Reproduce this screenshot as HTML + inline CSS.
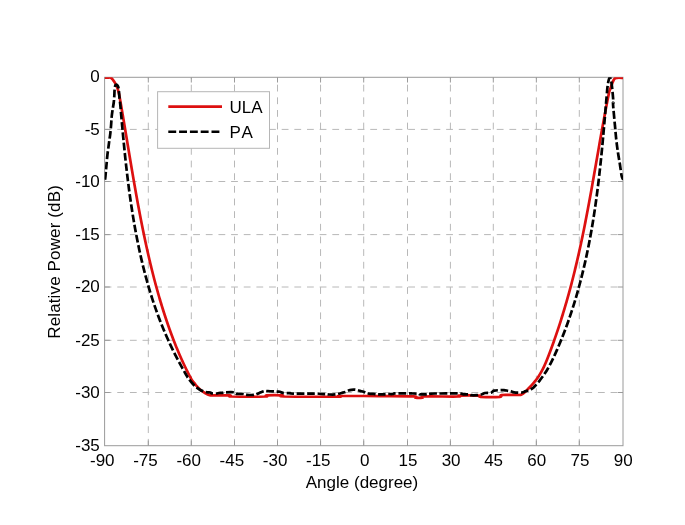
<!DOCTYPE html>
<html><head><meta charset="utf-8"><style>
html,body{margin:0;padding:0;background:#fff;width:685px;height:525px;overflow:hidden}
svg{display:block;will-change:transform}
text{font-family:"Liberation Sans",sans-serif;font-size:17px;fill:#000;font-kerning:none}
</style></head><body>
<svg width="685" height="525" viewBox="0 0 685 525">
<rect x="0" y="0" width="685" height="525" fill="#fff"/>
<g stroke="#b8b8b8" stroke-width="1" stroke-dasharray="6.8 5.85" fill="none">
<line x1="104.6" y1="129.40" x2="623.0" y2="129.40"/>
<line x1="104.6" y1="181.50" x2="623.0" y2="181.50"/>
<line x1="104.6" y1="234.60" x2="623.0" y2="234.60"/>
<line x1="104.6" y1="287.00" x2="623.0" y2="287.00"/>
<line x1="104.6" y1="340.30" x2="623.0" y2="340.30"/>
<line x1="104.6" y1="392.50" x2="623.0" y2="392.50"/>
<line x1="148.30" y1="445.7" x2="148.30" y2="77.3"/>
<line x1="191.30" y1="445.7" x2="191.30" y2="77.3"/>
<line x1="234.50" y1="445.7" x2="234.50" y2="77.3"/>
<line x1="277.50" y1="445.7" x2="277.50" y2="77.3"/>
<line x1="320.55" y1="445.7" x2="320.55" y2="77.3"/>
<line x1="363.70" y1="445.7" x2="363.70" y2="77.3"/>
<line x1="407.50" y1="445.7" x2="407.50" y2="77.3"/>
<line x1="450.40" y1="445.7" x2="450.40" y2="77.3"/>
<line x1="493.30" y1="445.7" x2="493.30" y2="77.3"/>
<line x1="536.35" y1="445.7" x2="536.35" y2="77.3"/>
<line x1="579.30" y1="445.7" x2="579.30" y2="77.3"/>
</g>
<path d="M104.6 129.40h5.2M623.0 129.40h-5.2M104.6 181.50h5.2M623.0 181.50h-5.2M104.6 234.60h5.2M623.0 234.60h-5.2M104.6 287.00h5.2M623.0 287.00h-5.2M104.6 340.30h5.2M623.0 340.30h-5.2M104.6 392.50h5.2M623.0 392.50h-5.2M148.30 445.7v-5.2M148.30 77.3v5.2M191.30 445.7v-5.2M191.30 77.3v5.2M234.50 445.7v-5.2M234.50 77.3v5.2M277.50 445.7v-5.2M277.50 77.3v5.2M320.55 445.7v-5.2M320.55 77.3v5.2M363.70 445.7v-5.2M363.70 77.3v5.2M407.50 445.7v-5.2M407.50 77.3v5.2M450.40 445.7v-5.2M450.40 77.3v5.2M493.30 445.7v-5.2M493.30 77.3v5.2M536.35 445.7v-5.2M536.35 77.3v5.2M579.30 445.7v-5.2M579.30 77.3v5.2" stroke="#9a9a9a" stroke-width="1" fill="none"/>
<rect x="104.6" y="77.3" width="518.4" height="368.4" fill="none" stroke="#9a9a9a" stroke-width="1"/>
<defs><clipPath id="ax"><rect x="104.6" y="77.3" width="518.4" height="368.4"/></clipPath></defs>
<g clip-path="url(#ax)" fill="none" stroke-width="2.7" stroke-linejoin="round" stroke-linecap="butt">
<path d="M104.60 77.60C105.17 77.60 106.95 77.58 108.00 77.60C109.05 77.62 110.05 77.28 110.90 77.70C111.75 78.12 112.42 79.23 113.10 80.10C113.78 80.97 114.38 81.83 115.00 82.90C115.62 83.97 116.27 85.22 116.80 86.50C117.33 87.78 117.79 89.18 118.20 90.60C118.61 92.02 119.00 93.85 119.25 95.00C119.50 96.15 119.55 96.67 119.69 97.50C119.84 98.33 119.99 99.17 120.13 100.00C120.28 100.83 120.43 101.67 120.57 102.50C120.72 103.33 120.86 104.17 121.01 105.00C121.15 105.83 121.30 106.67 121.44 107.50C121.58 108.33 121.73 109.17 121.87 110.00C122.01 110.83 122.16 111.67 122.30 112.50C122.44 113.33 122.58 114.17 122.73 115.00C122.87 115.83 123.01 116.67 123.15 117.50C123.29 118.33 123.43 119.17 123.58 120.00C123.72 120.83 123.86 121.67 124.00 122.50C124.14 123.33 124.28 124.17 124.42 125.00C124.56 125.83 124.70 126.67 124.84 127.50C124.98 128.33 125.12 129.17 125.26 130.00C125.40 130.83 125.53 131.67 125.67 132.50C125.81 133.33 125.95 134.17 126.09 135.00C126.23 135.83 126.37 136.67 126.51 137.50C126.65 138.33 126.78 139.17 126.92 140.00C127.06 140.83 127.20 141.67 127.34 142.50C127.48 143.33 127.62 144.17 127.75 145.00C127.89 145.83 128.03 146.67 128.17 147.50C128.31 148.33 128.45 149.17 128.59 150.00C128.73 150.83 128.86 151.67 129.00 152.50C129.14 153.33 129.28 154.17 129.42 155.00C129.56 155.83 129.70 156.67 129.84 157.50C129.98 158.33 130.12 159.17 130.26 160.00C130.40 160.83 130.54 161.67 130.68 162.50C130.82 163.33 130.96 164.17 131.10 165.00C131.24 165.83 131.38 166.67 131.52 167.50C131.66 168.33 131.80 169.17 131.94 170.00C132.09 170.83 132.23 171.67 132.37 172.50C132.51 173.33 132.65 174.17 132.80 175.00C132.94 175.83 133.08 176.67 133.23 177.50C133.37 178.33 133.51 179.17 133.66 180.00C133.80 180.83 133.95 181.67 134.09 182.50C134.24 183.33 134.38 184.17 134.53 185.00C134.67 185.83 134.82 186.67 134.97 187.50C135.11 188.33 135.26 189.17 135.41 190.00C135.55 190.83 135.70 191.67 135.85 192.50C136.00 193.33 136.15 194.17 136.30 195.00C136.45 195.83 136.60 196.67 136.75 197.50C136.90 198.33 137.05 199.17 137.20 200.00C137.35 200.83 137.51 201.67 137.66 202.50C137.81 203.33 137.97 204.17 138.12 205.00C138.28 205.83 138.43 206.67 138.59 207.50C138.74 208.33 138.90 209.17 139.06 210.00C139.21 210.83 139.37 211.67 139.53 212.50C139.69 213.33 139.85 214.17 140.01 215.00C140.17 215.83 140.33 216.67 140.49 217.50C140.65 218.33 140.81 219.17 140.97 220.00C141.14 220.83 141.30 221.67 141.47 222.50C141.63 223.33 141.80 224.17 141.96 225.00C142.13 225.83 142.29 226.67 142.46 227.50C142.63 228.33 142.80 229.17 142.97 230.00C143.14 230.83 143.31 231.67 143.48 232.50C143.65 233.33 143.82 234.17 144.00 235.00C144.17 235.83 144.35 236.67 144.52 237.50C144.70 238.33 144.87 239.17 145.05 240.00C145.23 240.83 145.41 241.67 145.58 242.50C145.76 243.33 145.94 244.17 146.13 245.00C146.31 245.83 146.49 246.67 146.67 247.50C146.86 248.33 147.04 249.17 147.23 250.00C147.41 250.83 147.60 251.67 147.79 252.50C147.98 253.33 148.17 254.17 148.36 255.00C148.55 255.83 148.74 256.67 148.93 257.50C149.12 258.33 149.32 259.17 149.51 260.00C149.71 260.83 149.91 261.67 150.10 262.50C150.30 263.33 150.50 264.17 150.70 265.00C150.90 265.83 151.10 266.67 151.31 267.50C151.51 268.33 151.72 269.17 151.92 270.00C152.13 270.83 152.34 271.67 152.55 272.50C152.76 273.33 152.97 274.17 153.18 275.00C153.39 275.83 153.61 276.67 153.82 277.50C154.04 278.33 154.25 279.17 154.47 280.00C154.69 280.83 154.91 281.67 155.13 282.50C155.36 283.33 155.58 284.17 155.80 285.00C156.03 285.83 156.26 286.67 156.48 287.50C156.71 288.33 156.94 289.17 157.18 290.00C157.41 290.83 157.64 291.67 157.88 292.50C158.11 293.33 158.35 294.17 158.59 295.00C158.83 295.83 159.07 296.67 159.31 297.50C159.56 298.33 159.80 299.17 160.05 300.00C160.30 300.83 160.54 301.67 160.80 302.50C161.05 303.33 161.30 304.17 161.55 305.00C161.81 305.83 162.07 306.67 162.32 307.50C162.58 308.33 162.84 309.17 163.11 310.00C163.37 310.83 163.63 311.67 163.90 312.50C164.17 313.33 164.44 314.17 164.71 315.00C164.98 315.83 165.25 316.67 165.53 317.50C165.81 318.33 166.08 319.17 166.36 320.00C166.65 320.83 166.93 321.67 167.21 322.50C167.50 323.33 167.78 324.17 168.07 325.00C168.36 325.83 168.65 326.67 168.95 327.50C169.24 328.33 169.54 329.17 169.84 330.00C170.14 330.83 170.44 331.67 170.74 332.50C171.05 333.33 171.35 334.17 171.66 335.00C171.97 335.83 172.28 336.67 172.60 337.50C172.91 338.33 173.23 339.17 173.55 340.00C173.87 340.83 174.20 341.67 174.52 342.50C174.85 343.33 175.18 344.17 175.51 345.00C175.85 345.83 176.18 346.67 176.53 347.50C176.87 348.33 177.21 349.17 177.56 350.00C177.90 350.83 178.25 351.67 178.61 352.50C178.96 353.33 179.32 354.17 179.68 355.00C180.05 355.83 180.41 356.67 180.78 357.50C181.15 358.33 181.53 359.17 181.90 360.00C182.28 360.83 182.66 361.67 183.05 362.50C183.44 363.33 183.83 364.17 184.22 365.00C184.62 365.83 185.02 366.67 185.42 367.50C185.82 368.33 186.23 369.17 186.64 370.00C187.06 370.83 187.47 371.67 187.90 372.50C188.32 373.33 188.75 374.17 189.18 375.00C189.61 375.83 190.05 376.67 190.49 377.50C190.93 378.33 191.15 379.02 191.83 380.00C192.52 380.98 193.86 382.45 194.60 383.40C195.34 384.35 195.35 384.65 196.30 385.70C197.25 386.75 198.85 388.48 200.30 389.70C201.75 390.92 203.43 392.08 205.00 393.00C206.57 393.92 208.15 394.80 209.70 395.20C211.25 395.60 210.92 395.37 214.30 395.40C217.68 395.43 227.13 395.22 230.00 395.40C232.87 395.58 225.67 396.32 231.50 396.50C237.33 396.68 259.17 396.68 265.00 396.50C270.83 396.32 263.58 395.58 266.50 395.40C269.42 395.22 279.58 395.22 282.50 395.40C285.42 395.58 274.75 396.30 284.00 396.50C293.25 396.70 328.67 396.68 338.00 396.60C347.33 396.52 333.00 396.08 340.00 396.00C347.00 395.92 367.75 396.03 380.00 396.10C392.25 396.17 407.58 396.13 413.50 396.40C419.42 396.67 414.00 397.48 415.50 397.70C417.00 397.92 421.00 397.90 422.50 397.70C424.00 397.50 418.58 396.70 424.50 396.50C430.42 396.30 452.17 396.65 458.00 396.50C463.83 396.35 456.00 395.75 459.50 395.60C463.00 395.45 475.50 395.40 479.00 395.60C482.50 395.80 477.00 396.60 480.50 396.80C484.00 397.00 496.50 397.10 500.00 396.80C503.50 396.50 498.42 395.30 501.50 395.00C504.58 394.70 515.10 395.12 518.50 395.00C521.90 394.88 520.82 394.80 521.90 394.30C522.98 393.80 523.99 392.88 525.00 392.00C526.01 391.12 527.07 389.92 527.99 389.00C528.90 388.08 529.70 387.32 530.50 386.48C531.30 385.64 532.06 384.81 532.79 383.97C533.52 383.13 534.22 382.29 534.88 381.45C535.55 380.61 536.18 379.77 536.79 378.93C537.40 378.09 537.98 377.25 538.53 376.42C539.08 375.58 539.61 374.74 540.12 373.90C540.62 373.06 541.10 372.22 541.57 371.38C542.03 370.54 542.47 369.70 542.90 368.86C543.32 368.03 543.73 367.19 544.13 366.35C544.52 365.51 544.90 364.67 545.27 363.83C545.64 362.99 545.99 362.15 546.34 361.31C546.69 360.47 547.02 359.64 547.36 358.80C547.69 357.96 548.01 357.12 548.34 356.28C548.66 355.44 548.98 354.60 549.30 353.76C549.62 352.92 549.93 352.08 550.24 351.25C550.56 350.41 550.87 349.57 551.18 348.73C551.49 347.89 551.79 347.05 552.10 346.21C552.41 345.37 552.71 344.53 553.01 343.69C553.31 342.86 553.61 342.02 553.91 341.18C554.20 340.34 554.50 339.50 554.79 338.66C555.09 337.82 555.38 336.98 555.67 336.14C555.96 335.31 556.24 334.47 556.53 333.63C556.82 332.79 557.10 331.95 557.38 331.11C557.66 330.27 557.94 329.43 558.22 328.59C558.50 327.75 558.78 326.92 559.05 326.08C559.33 325.24 559.60 324.40 559.87 323.56C560.14 322.72 560.41 321.88 560.68 321.04C560.94 320.20 561.21 319.36 561.47 318.53C561.74 317.69 562.00 316.85 562.26 316.01C562.52 315.17 562.78 314.33 563.03 313.49C563.29 312.65 563.55 311.81 563.80 310.97C564.05 310.14 564.30 309.30 564.55 308.46C564.80 307.62 565.05 306.78 565.30 305.94C565.55 305.10 565.79 304.26 566.03 303.42C566.28 302.58 566.52 301.75 566.76 300.91C567.00 300.07 567.24 299.23 567.48 298.39C567.71 297.55 567.95 296.71 568.18 295.87C568.42 295.03 568.65 294.19 568.88 293.36C569.11 292.52 569.34 291.68 569.57 290.84C569.80 290.00 570.02 289.16 570.25 288.32C570.47 287.48 570.69 286.64 570.92 285.81C571.14 284.97 571.36 284.13 571.58 283.29C571.80 282.45 572.01 281.61 572.23 280.77C572.45 279.93 572.66 279.09 572.87 278.25C573.09 277.42 573.30 276.58 573.51 275.74C573.72 274.90 573.93 274.06 574.14 273.22C574.35 272.38 574.55 271.54 574.76 270.70C574.96 269.86 575.17 269.03 575.37 268.19C575.57 267.35 575.77 266.51 575.97 265.67C576.17 264.83 576.37 263.99 576.57 263.15C576.77 262.31 576.96 261.47 577.16 260.64C577.35 259.80 577.55 258.96 577.74 258.12C577.93 257.28 578.12 256.44 578.31 255.60C578.50 254.76 578.69 253.92 578.88 253.08C579.07 252.25 579.26 251.41 579.44 250.57C579.63 249.73 579.81 248.89 580.00 248.05C580.18 247.21 580.36 246.37 580.54 245.53C580.73 244.69 580.91 243.86 581.09 243.02C581.26 242.18 581.44 241.34 581.62 240.50C581.80 239.66 581.97 238.82 582.15 237.98C582.33 237.14 582.50 236.31 582.67 235.47C582.85 234.63 583.02 233.79 583.19 232.95C583.36 232.11 583.53 231.27 583.70 230.43C583.87 229.59 584.04 228.75 584.21 227.92C584.38 227.08 584.55 226.24 584.71 225.40C584.88 224.56 585.05 223.72 585.21 222.88C585.38 222.04 585.54 221.20 585.71 220.36C585.87 219.53 586.03 218.69 586.20 217.85C586.36 217.01 586.52 216.17 586.68 215.33C586.84 214.49 587.00 213.65 587.16 212.81C587.32 211.97 587.48 211.14 587.64 210.30C587.80 209.46 587.95 208.62 588.11 207.78C588.27 206.94 588.43 206.10 588.58 205.26C588.74 204.42 588.89 203.58 589.05 202.75C589.20 201.91 589.36 201.07 589.51 200.23C589.67 199.39 589.82 198.55 589.97 197.71C590.12 196.87 590.28 196.03 590.43 195.19C590.58 194.36 590.73 193.52 590.89 192.68C591.04 191.84 591.19 191.00 591.34 190.16C591.49 189.32 591.64 188.48 591.79 187.64C591.94 186.81 592.09 185.97 592.24 185.13C592.39 184.29 592.54 183.45 592.69 182.61C592.83 181.77 592.98 180.93 593.13 180.09C593.28 179.25 593.43 178.42 593.57 177.58C593.72 176.74 593.87 175.90 594.02 175.06C594.17 174.22 594.31 173.38 594.46 172.54C594.61 171.70 594.75 170.86 594.90 170.03C595.05 169.19 595.19 168.35 595.34 167.51C595.49 166.67 595.63 165.83 595.78 164.99C595.93 164.15 596.07 163.31 596.22 162.47C596.37 161.64 596.51 160.80 596.66 159.96C596.81 159.12 596.95 158.28 597.10 157.44C597.25 156.60 597.39 155.76 597.54 154.92C597.69 154.08 597.83 153.25 597.98 152.41C598.13 151.57 598.27 150.73 598.42 149.89C598.57 149.05 598.71 148.21 598.86 147.37C599.01 146.53 599.16 145.69 599.30 144.86C599.45 144.02 599.60 143.18 599.75 142.34C599.90 141.50 600.04 140.66 600.19 139.82C600.34 138.98 600.49 138.14 600.64 137.31C600.79 136.47 600.94 135.63 601.09 134.79C601.24 133.95 601.39 133.11 601.54 132.27C601.69 131.43 601.84 130.59 601.99 129.75C602.14 128.92 602.29 128.08 602.45 127.24C602.60 126.40 602.75 125.56 602.90 124.72C603.06 123.88 603.21 123.04 603.36 122.20C603.52 121.36 603.67 120.53 603.83 119.69C603.98 118.85 604.14 118.01 604.29 117.17C604.45 116.33 604.60 115.49 604.76 114.65C604.92 113.81 605.08 112.97 605.23 112.14C605.39 111.30 605.55 110.46 605.71 109.62C605.87 108.78 606.03 107.94 606.19 107.10C606.35 106.26 606.51 105.42 606.67 104.58C606.84 103.75 607.00 102.91 607.16 102.07C607.33 101.23 607.49 100.39 607.65 99.55C607.82 98.71 607.98 97.87 608.15 97.03C608.32 96.19 608.49 95.36 608.65 94.52C608.82 93.68 608.84 93.09 609.16 92.00C609.48 90.91 610.13 89.33 610.60 88.00C611.07 86.67 611.53 85.25 612.00 84.00C612.47 82.75 612.90 81.45 613.40 80.50C613.90 79.55 614.40 78.75 615.00 78.30C615.60 77.85 615.67 77.88 617.00 77.80C618.33 77.72 622.00 77.80 623.00 77.80" stroke="#dd1010"/>
<path d="M104.60 181.00C104.72 180.48 105.07 179.73 105.30 177.90C105.53 176.07 105.78 172.38 106.00 170.00C106.22 167.62 106.37 166.10 106.60 163.60C106.83 161.10 107.07 157.93 107.40 155.00C107.73 152.07 108.27 148.50 108.60 146.00C108.93 143.50 109.12 142.07 109.40 140.00C109.68 137.93 110.02 136.10 110.30 133.60C110.58 131.10 110.88 127.68 111.10 125.00C111.32 122.32 111.38 119.83 111.60 117.50C111.82 115.17 112.18 112.58 112.40 111.00C112.62 109.42 112.67 109.50 112.90 108.00C113.13 106.50 113.57 104.00 113.80 102.00C114.03 100.00 114.18 97.83 114.30 96.00C114.42 94.17 114.42 92.37 114.50 91.00C114.58 89.63 114.67 88.70 114.80 87.80C114.93 86.90 115.10 86.12 115.30 85.60C115.50 85.08 115.73 84.82 116.00 84.70C116.27 84.58 116.57 84.63 116.90 84.90C117.23 85.17 117.72 85.68 118.00 86.30C118.28 86.92 118.43 87.65 118.60 88.60C118.77 89.55 118.87 90.60 119.00 92.00C119.13 93.40 119.20 95.00 119.40 97.00C119.60 99.00 120.04 102.41 120.22 104.00C120.39 105.59 120.37 105.68 120.44 106.51C120.51 107.35 120.59 108.19 120.66 109.03C120.73 109.87 120.81 110.70 120.88 111.54C120.96 112.38 121.03 113.22 121.11 114.06C121.18 114.89 121.25 115.73 121.33 116.57C121.40 117.41 121.48 118.24 121.55 119.08C121.63 119.92 121.70 120.76 121.78 121.60C121.86 122.43 121.93 123.27 122.01 124.11C122.08 124.95 122.16 125.79 122.24 126.62C122.31 127.46 122.39 128.30 122.47 129.14C122.55 129.98 122.62 130.81 122.70 131.65C122.78 132.49 122.86 133.33 122.94 134.17C123.02 135.00 123.09 135.84 123.17 136.68C123.25 137.52 123.33 138.35 123.41 139.19C123.50 140.03 123.58 140.87 123.66 141.71C123.74 142.54 123.82 143.38 123.90 144.22C123.99 145.06 124.07 145.90 124.15 146.73C124.24 147.57 124.32 148.41 124.41 149.25C124.49 150.09 124.58 150.92 124.66 151.76C124.75 152.60 124.83 153.44 124.92 154.28C125.01 155.11 125.10 155.95 125.18 156.79C125.27 157.63 125.36 158.46 125.45 159.30C125.54 160.14 125.63 160.98 125.72 161.82C125.82 162.65 125.91 163.49 126.00 164.33C126.09 165.17 126.19 166.01 126.28 166.84C126.37 167.68 126.47 168.52 126.57 169.36C126.66 170.20 126.76 171.03 126.86 171.87C126.95 172.71 127.05 173.55 127.15 174.39C127.25 175.22 127.35 176.06 127.45 176.90C127.55 177.74 127.66 178.57 127.76 179.41C127.86 180.25 127.97 181.09 128.07 181.93C128.18 182.76 128.28 183.60 128.39 184.44C128.50 185.28 128.60 186.12 128.71 186.95C128.82 187.79 128.93 188.63 129.04 189.47C129.15 190.31 129.27 191.14 129.38 191.98C129.49 192.82 129.61 193.66 129.72 194.50C129.84 195.33 129.95 196.17 130.07 197.01C130.19 197.85 130.31 198.69 130.43 199.52C130.55 200.36 130.67 201.20 130.79 202.04C130.91 202.87 131.04 203.71 131.16 204.55C131.29 205.39 131.41 206.23 131.54 207.06C131.67 207.90 131.80 208.74 131.93 209.58C132.06 210.42 132.19 211.25 132.32 212.09C132.45 212.93 132.59 213.77 132.72 214.61C132.86 215.44 133.00 216.28 133.13 217.12C133.27 217.96 133.41 218.80 133.55 219.63C133.69 220.47 133.84 221.31 133.98 222.15C134.12 222.98 134.27 223.82 134.42 224.66C134.56 225.50 134.71 226.34 134.86 227.17C135.01 228.01 135.16 228.85 135.32 229.69C135.47 230.53 135.62 231.36 135.78 232.20C135.94 233.04 136.09 233.88 136.25 234.72C136.41 235.55 136.57 236.39 136.74 237.23C136.90 238.07 137.06 238.91 137.23 239.74C137.39 240.58 137.56 241.42 137.73 242.26C137.90 243.09 138.07 243.93 138.24 244.77C138.42 245.61 138.59 246.45 138.77 247.28C138.94 248.12 139.12 248.96 139.30 249.80C139.48 250.64 139.66 251.47 139.85 252.31C140.03 253.15 140.21 253.99 140.40 254.83C140.59 255.66 140.78 256.50 140.97 257.34C141.16 258.18 141.35 259.02 141.55 259.85C141.75 260.69 141.94 261.53 142.14 262.37C142.34 263.20 142.54 264.04 142.75 264.88C142.95 265.72 143.16 266.56 143.36 267.39C143.57 268.23 143.78 269.07 144.00 269.91C144.21 270.75 144.42 271.58 144.64 272.42C144.86 273.26 145.08 274.10 145.30 274.94C145.52 275.77 145.74 276.61 145.97 277.45C146.20 278.29 146.43 279.13 146.66 279.96C146.89 280.80 147.12 281.64 147.36 282.48C147.60 283.31 147.83 284.15 148.08 284.99C148.32 285.83 148.56 286.67 148.81 287.50C149.06 288.34 149.30 289.18 149.56 290.02C149.81 290.86 150.06 291.69 150.32 292.53C150.58 293.37 150.84 294.21 151.10 295.05C151.36 295.88 151.63 296.72 151.90 297.56C152.17 298.40 152.44 299.24 152.71 300.07C152.99 300.91 153.26 301.75 153.54 302.59C153.82 303.43 154.11 304.26 154.39 305.10C154.68 305.94 154.97 306.78 155.26 307.61C155.55 308.45 155.85 309.29 156.14 310.13C156.44 310.97 156.74 311.80 157.05 312.64C157.35 313.48 157.66 314.32 157.97 315.16C158.28 315.99 158.59 316.83 158.91 317.67C159.23 318.51 159.55 319.35 159.87 320.18C160.20 321.02 160.52 321.86 160.85 322.70C161.18 323.54 161.52 324.37 161.86 325.21C162.19 326.05 162.53 326.89 162.88 327.72C163.22 328.56 163.57 329.40 163.92 330.24C164.27 331.08 164.62 331.91 164.98 332.75C165.34 333.59 165.70 334.43 166.07 335.27C166.43 336.10 166.80 336.94 167.17 337.78C167.55 338.62 167.92 339.46 168.30 340.29C168.68 341.13 169.07 341.97 169.45 342.81C169.84 343.65 170.23 344.48 170.63 345.32C171.02 346.16 171.42 347.00 171.82 347.83C172.23 348.67 172.63 349.51 173.04 350.35C173.45 351.19 173.87 352.02 174.29 352.86C174.70 353.70 175.13 354.54 175.55 355.38C175.98 356.21 176.41 357.05 176.84 357.89C177.28 358.73 177.72 359.57 178.16 360.40C178.60 361.24 179.05 362.08 179.50 362.92C179.95 363.76 180.41 364.59 180.87 365.43C181.33 366.27 181.79 367.11 182.26 367.94C182.72 368.78 183.20 369.62 183.67 370.46C184.15 371.30 184.63 372.13 185.12 372.97C185.60 373.81 186.09 374.65 186.59 375.49C187.08 376.32 187.10 376.66 188.08 378.00C189.07 379.34 191.18 382.00 192.50 383.50C193.82 385.00 194.78 385.97 196.00 387.00C197.22 388.03 198.38 388.90 199.80 389.70C201.22 390.50 203.13 391.37 204.50 391.80C205.87 392.23 207.03 392.18 208.00 392.30C208.97 392.42 209.63 392.32 210.30 392.50C210.97 392.68 210.98 393.23 212.00 393.40C213.02 393.57 215.23 393.57 216.40 393.50C217.57 393.43 218.07 393.10 219.00 393.00C219.93 392.90 220.83 393.02 222.00 392.90C223.17 392.78 224.00 392.40 226.00 392.30C228.00 392.20 232.25 392.05 234.00 392.30C235.75 392.55 234.92 393.52 236.50 393.80C238.08 394.08 241.75 393.83 243.50 394.00C245.25 394.17 245.25 394.65 247.00 394.80C248.75 394.95 252.33 395.03 254.00 394.90C255.67 394.77 255.83 394.43 257.00 394.00C258.17 393.57 259.67 392.80 261.00 392.30C262.33 391.80 263.83 391.18 265.00 391.00C266.17 390.82 266.67 391.15 268.00 391.20C269.33 391.25 271.50 391.22 273.00 391.30C274.50 391.38 275.83 391.62 277.00 391.70C278.17 391.78 279.00 391.60 280.00 391.80C281.00 392.00 281.33 392.67 283.00 392.90C284.67 393.13 288.33 393.08 290.00 393.20C291.67 393.32 288.50 393.53 293.00 393.60C297.50 393.67 312.42 393.53 317.00 393.60C321.58 393.67 319.00 393.90 320.50 394.00C322.00 394.10 324.58 394.12 326.00 394.20C327.42 394.28 327.33 394.47 329.00 394.50C330.67 394.53 333.92 394.65 336.00 394.40C338.08 394.15 339.92 393.42 341.50 393.00C343.08 392.58 344.33 392.30 345.50 391.90C346.67 391.50 347.50 390.95 348.50 390.60C349.50 390.25 350.58 389.97 351.50 389.80C352.42 389.63 353.08 389.57 354.00 389.60C354.92 389.63 356.00 389.78 357.00 390.00C358.00 390.22 358.92 390.60 360.00 390.90C361.08 391.20 362.50 391.48 363.50 391.80C364.50 392.12 365.08 392.50 366.00 392.80C366.92 393.10 367.50 393.38 369.00 393.60C370.50 393.82 373.50 393.97 375.00 394.10C376.50 394.23 376.50 394.35 378.00 394.40C379.50 394.45 382.67 394.47 384.00 394.40C385.33 394.33 384.50 394.07 386.00 394.00C387.50 393.93 391.50 394.10 393.00 394.00C394.50 393.90 392.17 393.50 395.00 393.40C397.83 393.30 407.17 393.38 410.00 393.40C412.83 393.42 410.67 393.47 412.00 393.50C413.33 393.53 416.67 393.47 418.00 393.60C419.33 393.73 418.67 394.18 420.00 394.30C421.33 394.42 424.67 394.35 426.00 394.30C427.33 394.25 427.17 394.12 428.00 394.00C428.83 393.88 429.50 393.68 431.00 393.60C432.50 393.52 433.00 393.53 437.00 393.50C441.00 393.47 451.00 393.38 455.00 393.40C459.00 393.42 459.58 393.45 461.00 393.60C462.42 393.75 462.17 394.15 463.50 394.30C464.83 394.45 467.75 394.35 469.00 394.50C470.25 394.65 469.67 395.08 471.00 395.20C472.33 395.32 475.67 395.27 477.00 395.20C478.33 395.13 478.17 394.97 479.00 394.80C479.83 394.63 481.00 394.50 482.00 394.20C483.00 393.90 483.50 393.27 485.00 393.00C486.50 392.73 489.50 393.00 491.00 392.60C492.50 392.20 492.50 391.00 494.00 390.60C495.50 390.20 498.33 390.28 500.00 390.20C501.67 390.12 502.67 390.00 504.00 390.10C505.33 390.20 506.83 390.62 508.00 390.80C509.17 390.98 510.00 390.93 511.00 391.20C512.00 391.47 512.17 392.18 514.00 392.40C515.83 392.62 520.17 392.67 522.00 392.50C523.83 392.33 524.00 391.73 525.00 391.40C526.00 391.07 527.00 390.87 528.00 390.50C529.00 390.13 530.07 389.72 531.00 389.20C531.93 388.68 532.77 388.13 533.60 387.40C534.43 386.67 535.10 385.78 536.00 384.80C536.90 383.82 538.26 382.38 539.00 381.50C539.74 380.62 539.89 380.25 540.45 379.50C541.00 378.75 541.74 377.82 542.35 376.99C542.96 376.15 543.55 375.31 544.12 374.47C544.69 373.64 545.24 372.80 545.77 371.96C546.31 371.12 546.82 370.28 547.32 369.45C547.81 368.61 548.30 367.77 548.76 366.93C549.23 366.10 549.69 365.26 550.13 364.42C550.57 363.58 551.00 362.74 551.42 361.91C551.84 361.07 552.25 360.23 552.66 359.39C553.06 358.56 553.45 357.72 553.84 356.88C554.23 356.04 554.61 355.20 554.99 354.37C555.37 353.53 555.75 352.69 556.12 351.85C556.49 351.01 556.86 350.18 557.23 349.34C557.59 348.50 557.95 347.66 558.31 346.83C558.67 345.99 559.03 345.15 559.38 344.31C559.73 343.47 560.08 342.64 560.42 341.80C560.77 340.96 561.11 340.12 561.45 339.29C561.79 338.45 562.12 337.61 562.46 336.77C562.79 335.93 563.12 335.10 563.45 334.26C563.77 333.42 564.10 332.58 564.42 331.75C564.74 330.91 565.05 330.07 565.37 329.23C565.68 328.39 565.99 327.56 566.30 326.72C566.61 325.88 566.92 325.04 567.22 324.21C567.52 323.37 567.82 322.53 568.12 321.69C568.42 320.85 568.71 320.02 569.00 319.18C569.29 318.34 569.58 317.50 569.87 316.67C570.15 315.83 570.44 314.99 570.72 314.15C571.00 313.31 571.27 312.48 571.55 311.64C571.82 310.80 572.10 309.96 572.37 309.12C572.64 308.29 572.90 307.45 573.17 306.61C573.43 305.77 573.70 304.94 573.96 304.10C574.22 303.26 574.47 302.42 574.73 301.58C574.98 300.75 575.24 299.91 575.49 299.07C575.74 298.23 575.98 297.40 576.23 296.56C576.48 295.72 576.72 294.88 576.96 294.04C577.20 293.21 577.44 292.37 577.68 291.53C577.91 290.69 578.15 289.86 578.38 289.02C578.61 288.18 578.84 287.34 579.07 286.50C579.30 285.67 579.52 284.83 579.75 283.99C579.97 283.15 580.19 282.32 580.41 281.48C580.63 280.64 580.85 279.80 581.06 278.96C581.28 278.13 581.49 277.29 581.70 276.45C581.91 275.61 582.12 274.78 582.33 273.94C582.53 273.10 582.74 272.26 582.94 271.42C583.15 270.59 583.35 269.75 583.55 268.91C583.75 268.07 583.94 267.24 584.14 266.40C584.33 265.56 584.53 264.72 584.72 263.88C584.91 263.05 585.10 262.21 585.29 261.37C585.48 260.53 585.66 259.69 585.85 258.86C586.03 258.02 586.21 257.18 586.39 256.34C586.57 255.51 586.75 254.67 586.93 253.83C587.11 252.99 587.28 252.15 587.46 251.32C587.63 250.48 587.80 249.64 587.97 248.80C588.14 247.97 588.31 247.13 588.48 246.29C588.64 245.45 588.81 244.61 588.97 243.78C589.13 242.94 589.30 242.10 589.46 241.26C589.62 240.43 589.78 239.59 589.93 238.75C590.09 237.91 590.24 237.07 590.40 236.24C590.55 235.40 590.70 234.56 590.85 233.72C591.01 232.89 591.15 232.05 591.30 231.21C591.45 230.37 591.60 229.53 591.74 228.70C591.89 227.86 592.03 227.02 592.17 226.18C592.31 225.35 592.45 224.51 592.59 223.67C592.73 222.83 592.87 221.99 593.00 221.16C593.14 220.32 593.28 219.48 593.41 218.64C593.54 217.81 593.67 216.97 593.80 216.13C593.94 215.29 594.06 214.45 594.19 213.62C594.32 212.78 594.45 211.94 594.57 211.10C594.70 210.26 594.82 209.43 594.95 208.59C595.07 207.75 595.19 206.91 595.31 206.08C595.43 205.24 595.55 204.40 595.67 203.56C595.79 202.72 595.90 201.89 596.02 201.05C596.14 200.21 596.25 199.37 596.36 198.54C596.48 197.70 596.59 196.86 596.70 196.02C596.81 195.18 596.92 194.35 597.03 193.51C597.14 192.67 597.25 191.83 597.36 191.00C597.47 190.16 597.57 189.32 597.68 188.48C597.78 187.64 597.89 186.81 597.99 185.97C598.09 185.13 598.19 184.29 598.30 183.46C598.40 182.62 598.50 181.78 598.60 180.94C598.70 180.10 598.79 179.27 598.89 178.43C598.99 177.59 599.09 176.75 599.18 175.92C599.28 175.08 599.37 174.24 599.47 173.40C599.56 172.56 599.65 171.73 599.75 170.89C599.84 170.05 599.93 169.21 600.02 168.38C600.11 167.54 600.20 166.70 600.29 165.86C600.38 165.02 600.47 164.19 600.56 163.35C600.65 162.51 600.73 161.67 600.82 160.83C600.91 160.00 600.99 159.16 601.08 158.32C601.16 157.48 601.25 156.65 601.33 155.81C601.41 154.97 601.50 154.13 601.58 153.29C601.66 152.46 601.75 151.62 601.83 150.78C601.91 149.94 601.99 149.11 602.07 148.27C602.15 147.43 602.23 146.59 602.31 145.75C602.39 144.92 602.47 144.08 602.55 143.24C602.62 142.40 602.70 141.57 602.78 140.73C602.86 139.89 602.93 139.05 603.01 138.21C603.09 137.38 603.16 136.54 603.24 135.70C603.32 134.86 603.39 134.03 603.47 133.19C603.54 132.35 603.62 131.51 603.69 130.67C603.76 129.84 603.84 129.00 603.91 128.16C603.99 127.32 604.06 126.49 604.13 125.65C604.21 124.81 604.28 123.97 604.35 123.13C604.42 122.30 604.50 121.46 604.57 120.62C604.64 119.78 604.71 118.94 604.78 118.11C604.86 117.27 604.93 116.43 605.00 115.59C605.07 114.76 605.14 113.92 605.21 113.08C605.28 112.24 605.36 111.40 605.43 110.57C605.50 109.73 605.57 108.89 605.64 108.05C605.71 107.22 605.78 106.38 605.85 105.54C605.92 104.70 605.99 103.86 606.06 103.03C606.13 102.19 606.20 101.35 606.27 100.51C606.34 99.68 606.36 99.42 606.49 98.00C606.61 96.58 606.86 93.57 607.00 92.00C607.14 90.43 607.15 89.93 607.30 88.60C607.45 87.27 607.68 85.35 607.90 84.00C608.12 82.65 608.37 81.47 608.60 80.50C608.83 79.53 609.08 78.68 609.30 78.20C609.52 77.72 609.68 77.57 609.90 77.60C610.12 77.63 610.37 77.75 610.60 78.40C610.83 79.05 611.08 80.23 611.30 81.50C611.52 82.77 611.70 84.35 611.90 86.00C612.10 87.65 612.32 89.55 612.50 91.40C612.68 93.25 612.85 95.18 613.00 97.10C613.15 99.02 613.40 101.93 613.40 102.90C613.40 103.87 612.98 101.72 613.00 102.90C613.02 104.08 613.18 106.32 613.50 110.00C613.82 113.68 614.43 120.00 614.90 125.00C615.37 130.00 615.78 135.37 616.30 140.00C616.82 144.63 617.40 148.77 618.00 152.80C618.60 156.83 619.30 160.38 619.90 164.20C620.50 168.02 621.05 173.10 621.60 175.70C622.15 178.30 622.93 179.12 623.20 179.80" stroke="#000" stroke-dasharray="7.7 2.65" stroke-dashoffset="-1.4"/>
</g>
<rect x="157.6" y="91.7" width="111.9" height="56.6" fill="#fff" stroke="#b6b6b6" stroke-width="1"/>
<line x1="168.3" y1="106.6" x2="222" y2="106.6" stroke="#dd1010" stroke-width="2.6"/>
<line x1="168.3" y1="131.8" x2="220" y2="131.8" stroke="#000" stroke-width="2.6" stroke-dasharray="7.9 2.9"/>
<text x="229.5" y="113">ULA</text>
<text x="229.5" y="137.8" letter-spacing="0.7">PA</text>
<text x="99.8" y="81.7" text-anchor="end">0</text>
<text x="99.8" y="134.8" text-anchor="end">-5</text>
<text x="99.8" y="186.9" text-anchor="end">-10</text>
<text x="99.8" y="240.0" text-anchor="end">-15</text>
<text x="99.8" y="292.4" text-anchor="end">-20</text>
<text x="99.8" y="345.7" text-anchor="end">-25</text>
<text x="99.8" y="397.9" text-anchor="end">-30</text>
<text x="99.8" y="451.1" text-anchor="end">-35</text>
<text x="102.3" y="466" text-anchor="middle">-90</text>
<text x="145.5" y="466" text-anchor="middle">-75</text>
<text x="188.7" y="466" text-anchor="middle">-60</text>
<text x="231.9" y="466" text-anchor="middle">-45</text>
<text x="275.1" y="466" text-anchor="middle">-30</text>
<text x="318.3" y="466" text-anchor="middle">-15</text>
<text x="364.7" y="466" text-anchor="middle">0</text>
<text x="407.9" y="466" text-anchor="middle">15</text>
<text x="451.1" y="466" text-anchor="middle">30</text>
<text x="493.6" y="466" text-anchor="middle">45</text>
<text x="536.8" y="466" text-anchor="middle">60</text>
<text x="580.0" y="466" text-anchor="middle">75</text>
<text x="623.2" y="466" text-anchor="middle">90</text>
<text x="362" y="488" text-anchor="middle">Angle (degree)</text>
<text transform="translate(60.2 261.9) rotate(-90)" text-anchor="middle" letter-spacing="0.13">Relative Power (dB)</text>
</svg>
</body></html>
